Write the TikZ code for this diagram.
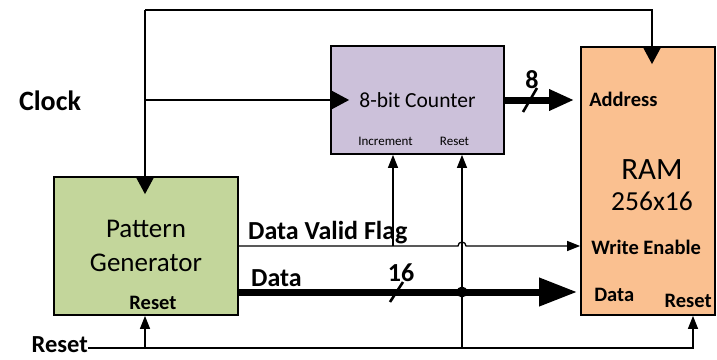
\documentclass[tikz,border=0pt]{standalone}
\usepackage{fontspec}
\setmainfont{Carlito}
\usepackage{xcolor}
\usepackage{tikz}
\usetikzlibrary{positioning,arrows.meta,calc}
\definecolor{pgfill}{HTML}{C3D69B}
\definecolor{ctrfill}{HTML}{CCC1DA}
\definecolor{ramfill}{HTML}{FAC090}
\tikzset{
  block/.style={draw, line width=1.8pt, inner sep=0pt, align=center},
  wire/.style={line width=1.3pt},
  sig/.style={wire, -{Triangle[length=13pt, width=10pt]}},
  clktip/.style={wire, -{Triangle[length=18pt, width=19pt]}},
  bus/.style={line width=7pt},
  slash/.style={line width=2.6pt},
  sigl/.style={font=\fontsize{26}{30}\selectfont\bfseries, inner sep=0pt},
  portl/.style={font=\fontsize{20.5}{24}\selectfont\bfseries, inner sep=0pt},
  tinyl/.style={font=\fontsize{13}{15}\selectfont, inner sep=0pt}
}
\begin{document}
\begin{tikzpicture}[x=1pt, y=-1pt]
\useasboundingbox (0,0) rectangle (717,359);
% blocks
\node[block, fill=pgfill, minimum width=184pt, minimum height=138pt, font=\fontsize{27}{34}\selectfont] (pg) at (146,246) {Pattern\\Generator};
\node[block, fill=ctrfill, minimum width=173pt, minimum height=108pt, font=\fontsize{21.5}{26}\selectfont] (ctr) at (417.5,100) {8-bit Counter};
\node[block, fill=ramfill, minimum width=134pt, minimum height=268pt] (ram) at (648,181) {};
% port names
\node[tinyl] (inc) at ($(ctr.south)+(-32,-14)$) {Increment};
\node[tinyl] (crst) at ($(ctr.south)+(37,-14)$) {Reset};
\node[portl] (pgrst) at ($(pg.south)+(7,-13)$) {Reset};
\node[inner sep=0pt, font=\fontsize{31}{36}\selectfont] (ramt) at ($(ram.north)+(4,123)$) {RAM};
\node[inner sep=0pt, font=\fontsize{27.5}{32}\selectfont] (ramsz) at ($(ram.north)+(4,155)$) {256x16};
\node[portl, anchor=west] (addr) at ($(ram.north west)+(9,53)$) {Address};
\node[portl, anchor=west] (we) at ($(ram.north west)+(11,201)$) {Write Enable};
\node[portl, anchor=west] (rdata) at ($(ram.south west)+(14,-21)$) {Data};
\node[portl, anchor=east] (rrst) at ($(ram.south east)+(-4,-15)$) {Reset};
% signal names
\node[sigl, font=\fontsize{28}{32}\selectfont\bfseries] (clklbl) at (50,101) {Clock};
\node[sigl, anchor=east, font=\fontsize{24.5}{28}\selectfont\bfseries] (rstlbl) at (88,345) {Reset};
\node[sigl, anchor=west] (dvl) at (248,233) {Data Valid Flag};
\node[sigl, anchor=west] (dlbl) at (251,278) {Data};
\node[sigl] (w8) at (532,80) {8};
\node[sigl] (w16) at (401,273) {16};
% junctions
\coordinate (ctop) at (145,10);
\coordinate (clk) at (145,100);
\coordinate (rtop) at (652,10);
\coordinate (dbus) at ($(pg.east)+(0,46)$);
\coordinate (ijoin) at (393,246);
\coordinate (rjoin) at (462,348);
\coordinate (pjoin) at (145,348);
\coordinate (rend) at (693,348);
% clock
\draw[clktip] (ctop) -- ($(pg.north -| ctop)+(0,18)$);
\draw[clktip] (clk) -- ($(ctr.west)+(19,0)$);
\draw[clktip] (ctop) -| ($(ram.north -| rtop)+(0,18)$);
% address
\draw[bus, -{Triangle[length=25pt, width=20pt]}, shorten >=6pt] (ctr.east) -- (ram.west |- ctr.east);
\draw[slash] ($(w8)+(-9,32)$) -- ($(w8)+(5,8)$);
% data
\draw[bus, -{Triangle[length=38pt, width=27pt]}, shorten >=3pt] (dbus) -- (ram.west |- dbus);
\draw[slash] ($(w16)+(-11,29)$) -- ($(w16)+(2,9)$);
\draw[sig] (pg.east) -- ($(rjoin |- pg.east)+(-4,0)$) arc (180:360:4) -- (ram.west |- pg.east);
\draw[sig] (ijoin) -- (ijoin |- ctr.south);
% reset
\draw[sig] (rjoin) -- (rjoin |- ctr.south);
\fill (rjoin |- dbus) circle (5.5);
\draw[sig] (rstlbl.east |- rend) -- (rend) -- (rend |- ram.south);
\draw[sig] (pjoin) -- (pjoin |- pg.south);
\end{tikzpicture}
\end{document}
